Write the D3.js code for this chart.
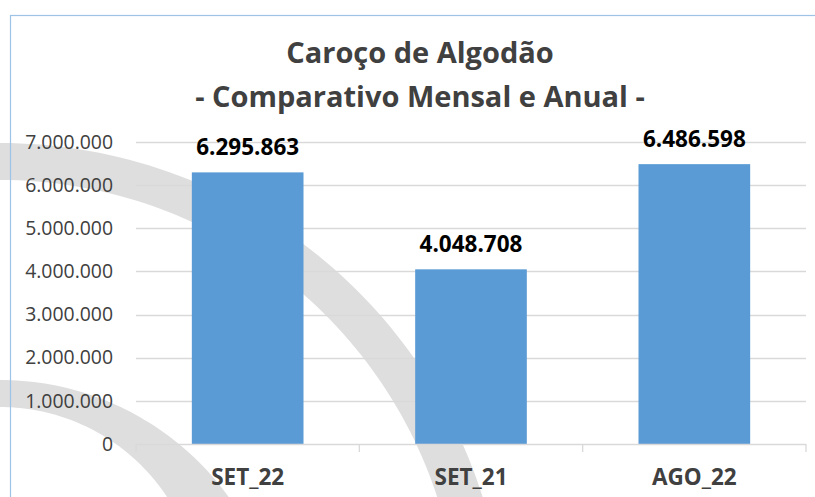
<!DOCTYPE html>
<html>
<head>
<meta charset="utf-8">
<script src="https://cdn.jsdelivr.net/npm/d3@7"></script>
<style>
    html, body { margin: 0; padding: 0; background: #fff; }
    svg { display: block; font-family: "Open Sans", sans-serif; }
</style>
</head>
<body>
<div id="chart"></div>
<script>
// data
const categories = ["SET_22", "SET_21", "AGO_22"];
const values = [6295863, 4048708, 6486598];
const yTicks = [0, 1000000, 2000000, 3000000, 4000000, 5000000, 6000000, 7000000];
const titleLines = ["Caroço de Algodão", "- Comparativo Mensal e Anual -"];

const options = {
    width: 815,
    height: 497,
    plot: { left: 136, right: 806, top: 142, bottom: 444 },
    colors: {
        bar: "#5b9bd5",
        grid: "#d9d9d9",
        text: "#404040",
        label: "#000",
        border: "#9dc3e6",
        watermark: "#dedede"
    }
};

// pt-BR number format (7.000.000)
const locale = d3.formatLocale({ decimal: ",", thousands: ".", grouping: [3], currency: ["R$", ""] });
const fmt = locale.format(",d");

const svg = d3.select("#chart").append("svg")
    .attr("width", options.width)
    .attr("height", options.height)
    .attr("viewBox", [0, 0, options.width, options.height]);

// background watermark (two crescent arcs), angle measured from the top, clockwise
function crescent(outer, inner) {
    var angles = d3.range(-0.3, 1.8, 0.02);
    var pt = (c, a) => [c.cx + c.r * Math.sin(a), c.cy - c.r * Math.cos(a)];
    var ring = angles.map(a => pt(outer, a))
        .concat(angles.slice().reverse().map(a => pt(inner, a)));
    return d3.line()(ring) + "Z";
}
const bands = [
    { outer: { cx: 0, cy: 649, r: 506 }, inner: { cx: 0, cy: 640, r: 460 } },
    { outer: { cx: 0, cy: 662, r: 282 }, inner: { cx: 0, cy: 607, r: 200 } }
];
svg.append("g").selectAll("path")
    .data(bands)
    .join("path")
    .attr("d", d => crescent(d.outer, d.inner))
    .attr("fill", options.colors.watermark);

// chart border
svg.append("rect")
    .attr("x", 10.5)
    .attr("y", 15.5)
    .attr("width", 1000)
    .attr("height", 1000)
    .attr("fill", "none")
    .attr("stroke", options.colors.border)
    .attr("stroke-width", 1.2);

// scales
const x = d3.scaleBand()
    .domain(categories)
    .range([options.plot.left, options.plot.right])
    .paddingInner(0.5)
    .paddingOuter(0.25);

const y = d3.scaleLinear()
    .domain([0, d3.max(yTicks)])
    .range([options.plot.bottom, options.plot.top]);

// gridlines
svg.append("g")
    .selectAll("line")
    .data(yTicks.filter(t => t > 0))
    .join("line")
    .attr("x1", options.plot.left)
    .attr("x2", options.plot.right)
    .attr("y1", d => Math.round(y(d)) + 0.5)
    .attr("y2", d => Math.round(y(d)) + 0.5)
    .attr("stroke", options.colors.grid)
    .attr("stroke-width", 1.3);

// y axis labels
const yAxis = svg.append("g")
    .attr("transform", `translate(${options.plot.left},0)`)
    .call(d3.axisLeft(y).tickValues(yTicks).tickFormat(fmt).tickSize(0).tickPadding(23));
yAxis.select(".domain").remove();
yAxis.selectAll("text")
    .attr("fill", options.colors.text)
    .style("font-size", "19.4px")
    .style("font-family", "'Open Sans', sans-serif");

// bars
svg.append("g")
    .selectAll("rect")
    .data(values)
    .join("rect")
    .attr("x", (d, i) => x(categories[i]))
    .attr("y", d => y(d))
    .attr("width", x.bandwidth())
    .attr("height", d => y(0) - y(d))
    .attr("fill", options.colors.bar);

// value labels
svg.append("g")
    .selectAll("text")
    .data(values)
    .join("text")
    .attr("x", (d, i) => x(categories[i]) + x.bandwidth() / 2)
    .attr("y", d => y(d) - 17)
    .attr("text-anchor", "middle")
    .attr("fill", options.colors.label)
    .style("font-size", "22.5px")
    .style("font-weight", "bold")
    .text(d => fmt(d));

// x axis line + boundary ticks
const xAxis = svg.append("g");
xAxis.append("line")
    .attr("x1", options.plot.left)
    .attr("x2", options.plot.right)
    .attr("y1", y(0) + 0.5)
    .attr("y2", y(0) + 0.5)
    .attr("stroke", options.colors.grid)
    .attr("stroke-width", 1.3);
xAxis.selectAll(".bound")
    .data(d3.range(categories.length + 1))
    .join("line")
    .attr("class", "bound")
    .attr("x1", i => options.plot.left + i * x.step())
    .attr("x2", i => options.plot.left + i * x.step())
    .attr("y1", y(0))
    .attr("y2", y(0) + 8)
    .attr("stroke", options.colors.grid)
    .attr("stroke-width", 1.3);

// category labels
const catAxis = svg.append("g")
    .attr("transform", `translate(0,${options.plot.bottom})`)
    .call(d3.axisBottom(x).tickSize(0).tickPadding(25));
catAxis.select(".domain").remove();
catAxis.selectAll("text")
    .attr("fill", options.colors.text)
    .style("font-size", "22.5px")
    .style("font-weight", "bold")
    .style("font-family", "'Open Sans', sans-serif");

// title
svg.append("g")
    .selectAll("text")
    .data(titleLines)
    .join("text")
    .attr("x", 420)
    .attr("y", (d, i) => 63 + i * 44)
    .attr("text-anchor", "middle")
    .attr("fill", options.colors.text)
    .style("font-size", "29px")
    .style("font-weight", "bold")
    .text(d => d);
</script>
</body>
</html>
